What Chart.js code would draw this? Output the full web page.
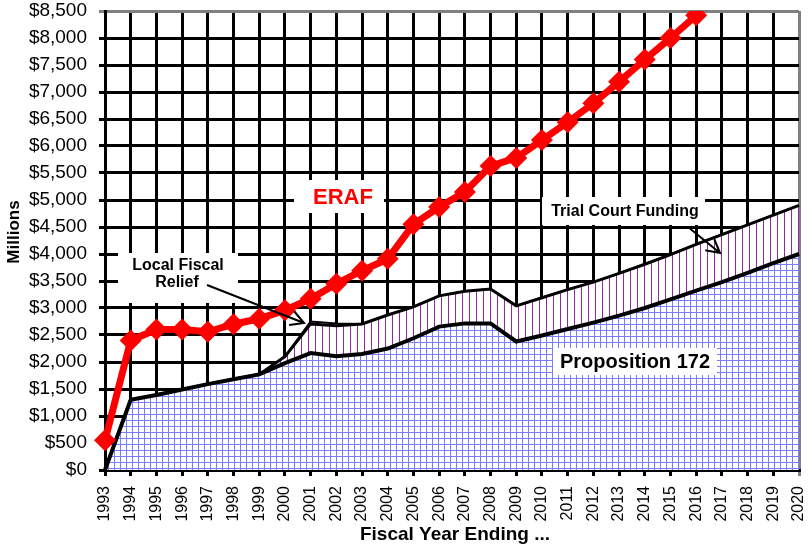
<!DOCTYPE html>
<html lang="en">
<head>
    <meta charset="UTF-8">
    <title>ERAF and Proposition 172</title>
    <script src="https://cdn.jsdelivr.net/npm/chart.js"></script>
    <style>
        body { margin: 0; padding: 0; background: #fff; }
        canvas { display: block; }
    </style>
</head>
<body>
    <canvas id="erafChart" width="812" height="546"></canvas>

    <script>
        // data ($ millions)
        const years = ['1993', '1994', '1995', '1996', '1997', '1998', '1999', '2000', '2001', '2002',
            '2003', '2004', '2005', '2006', '2007', '2008', '2009', '2010', '2011', '2012',
            '2013', '2014', '2015', '2016', '2017', '2018', '2019', '2020'];
        const eraf = [550, 2400, 2600, 2600, 2560, 2700, 2800, 2960, 3170, 3450,
            3690, 3910, 4550, 4870, 5150, 5630, 5780, 6110, 6440, 6790,
            7190, 7600, 8000, 8420, null, null, null, null];
        const prop172 = [0, 1300, 1390, 1490, 1590, 1680, 1770, 1980, 2165, 2105,
            2150, 2250, 2440, 2655, 2715, 2715, 2380, 2490, 2610, 2730,
            2860, 3000, 3160, 3320, 3480, 3650, 3830, 4000];
        const trialCourt = [0, 0, 0, 0, 0, 0, 0, 120, 540, 565,
            555, 620, 580, 570, 595, 635, 660, 700, 730, 750,
            780, 810, 830, 860, 880, 890, 890, 900];
        const localRelief = [0, 0, 0, 0, 0, 0, 0, 0, 45, 45,
            0, 0, 0, 0, 0, 0, 0, 0, 0, 0,
            0, 0, 0, 0, 0, 0, 0, 0];

        function gridPattern() {
            const c = document.createElement('canvas');
            c.width = 6; c.height = 6;
            const g = c.getContext('2d');
            g.fillStyle = '#fff';
            g.fillRect(0, 0, 6, 6);
            g.fillStyle = '#7c7cff';
            g.fillRect(0, 0, 6, 1);
            g.fillRect(0, 0, 1, 6);
            return g.createPattern(c, 'repeat');
        }
        function stripePattern() {
            const c = document.createElement('canvas');
            c.width = 7; c.height = 4;
            const g = c.getContext('2d');
            g.fillStyle = '#fff';
            g.fillRect(0, 0, 7, 4);
            g.fillStyle = '#8e2a9e';
            g.fillRect(0, 0, 1, 4);
            return g.createPattern(c, 'repeat');
        }
        function dashPattern() {
            const c = document.createElement('canvas');
            c.width = 5; c.height = 3;
            const g = c.getContext('2d');
            g.fillStyle = '#fff';
            g.fillRect(0, 0, 5, 3);
            g.fillStyle = '#9933cc';
            g.fillRect(0, 1, 3, 1);
            return g.createPattern(c, 'repeat');
        }

        // labels, boxes and arrows drawn on top of the plot
        const notes = {
            id: 'notes',
            afterDatasetsDraw(chart) {
                const c = chart.ctx;
                c.save();
                const box = (x, y, w, h) => { c.fillStyle = '#fff'; c.fillRect(x, y, w, h); };
                const text = (s, x, y, font, color) => {
                    c.font = font; c.fillStyle = color;
                    c.textAlign = 'center'; c.textBaseline = 'middle';
                    c.fillText(s, x, y);
                };
                const arrow = (x1, y1, x2, y2) => {
                    const a = Math.atan2(y2 - y1, x2 - x1);
                    c.strokeStyle = '#000'; c.lineWidth = 2;
                    c.beginPath();
                    c.moveTo(x1, y1); c.lineTo(x2, y2);
                    c.moveTo(x2 - 15 * Math.cos(a - 0.5), y2 - 15 * Math.sin(a - 0.5));
                    c.lineTo(x2, y2);
                    c.lineTo(x2 - 15 * Math.cos(a + 0.5), y2 - 15 * Math.sin(a + 0.5));
                    c.stroke();
                };

                box(294, 180, 90, 33);
                text('ERAF', 343, 198, 'bold 22px "Liberation Sans", Arial, sans-serif', '#ff0000');

                box(118, 253, 120, 50);
                text('Local Fiscal', 178, 266, 'bold 16px "Liberation Sans", Arial, sans-serif', '#000');
                text('Relief', 177, 283, 'bold 16px "Liberation Sans", Arial, sans-serif', '#000');
                arrow(207, 285, 304, 323);

                box(542, 197, 163, 28);
                text('Trial Court Funding', 625, 212, 'bold 16px "Liberation Sans", Arial, sans-serif', '#000');
                arrow(688, 227, 720, 253);

                box(553, 348, 164, 27);
                text('Proposition 172', 635, 362, 'bold 20px "Liberation Sans", Arial, sans-serif', '#000');

                // axis titles
                text('Fiscal Year Ending ...', 455, 535, 'bold 19px "Liberation Sans", Arial, sans-serif', '#000');
                c.translate(14, 232);
                c.rotate(-Math.PI / 2);
                text('Millions', 0, 0, 'bold 17px "Liberation Sans", Arial, sans-serif', '#000');
                c.restore();
            }
        };

        const ctx = document.getElementById('erafChart').getContext('2d');
        new Chart(ctx, {
            type: 'line',
            data: {
                labels: years,
                datasets: [
                    {
                        label: 'ERAF',
                        data: eraf,
                        stack: 'eraf',
                        borderColor: '#ff0000',
                        backgroundColor: '#ff0000',
                        borderWidth: 7,
                        pointStyle: 'rectRot',
                        pointRadius: 11,
                        pointBorderWidth: 0,
                        fill: false,
                        spanGaps: false
                    },
                    {
                        label: 'Proposition 172',
                        data: prop172,
                        stack: 'county',
                        borderColor: '#000',
                        borderWidth: 4,
                        backgroundColor: gridPattern(),
                        pointRadius: 0,
                        fill: 'origin'
                    },
                    {
                        label: 'Trial Court Funding',
                        data: trialCourt,
                        stack: 'county',
                        borderColor: '#000',
                        borderWidth: 3,
                        backgroundColor: stripePattern(),
                        pointRadius: 0,
                        fill: '-1'
                    },
                    {
                        label: 'Local Fiscal Relief',
                        data: localRelief,
                        stack: 'county',
                        borderColor: '#000',
                        borderWidth: 2,
                        backgroundColor: dashPattern(),
                        pointRadius: 0,
                        fill: '-1'
                    }
                ]
            },
            options: {
                responsive: false,
                animation: false,
                layout: { padding: { top: 4, right: 13, left: 0, bottom: 0 } },
                plugins: {
                    legend: { display: false },
                    tooltip: { enabled: false }
                },
                scales: {
                    x: {
                        stacked: true,
                        grid: {
                            color: c => c.index === years.length - 1 ? '#808080' : '#000',
                            lineWidth: 3,
                            tickLength: 6
                        },
                        border: { color: '#000', width: 3 },
                        ticks: {
                            autoSkip: false,
                            minRotation: 90,
                            maxRotation: 90,
                            padding: 10,
                            color: '#000',
                            font: { family: '"Liberation Sans", Arial, sans-serif', size: 16 }
                        },
                        afterFit: s => { s.height = 76; s.paddingLeft = 0; s.paddingRight = 0; }
                    },
                    y: {
                        stacked: true,
                        min: 0,
                        max: 8500,
                        grid: {
                            color: c => c.tick && c.tick.value === 8500 ? '#808080' : '#000',
                            lineWidth: 3,
                            tickLength: 6
                        },
                        border: { color: '#000', width: 3 },
                        ticks: {
                            stepSize: 500,
                            padding: 12,
                            color: '#000',
                            font: { family: '"Liberation Sans", Arial, sans-serif', size: 19 },
                            callback: v => '$' + v.toLocaleString('en-US')
                        },
                        afterFit: s => { s.width = 105; s.paddingTop = 0; s.paddingBottom = 0; }
                    }
                }
            },
            plugins: [notes]
        });
    </script>
</body>
</html>
